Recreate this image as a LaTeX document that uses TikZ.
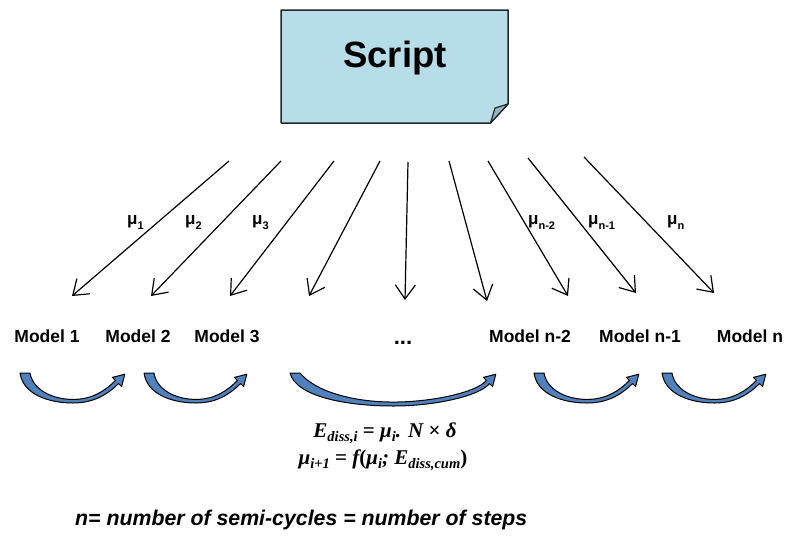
\documentclass[tikz,border=0pt]{standalone}
\usepackage{fontspec}
\setmainfont{Liberation Sans}
\newfontfamily\eqfont{Liberation Serif}
\usetikzlibrary{arrows.meta}

\definecolor{notefill}{HTML}{B7DDE8}
\definecolor{flapfill}{HTML}{93B7C2}
\definecolor{hopfill}{HTML}{4F81BD}

\newcommand\fsz[1]{\fontsize{#1}{#1}\selectfont}
% mu with a lowered, smaller subscript
\newcommand\musub[1]{μ\raisebox{-5.5pt}{\fsz{11}#1}}
% subscript inside the formulas
\newcommand\eqsub[1]{\raisebox{-4pt}{\fsz{14.5}#1}}
\newcommand\up[1]{{\upshape #1}}

% curved block arrow starting at (#1,#2): #3 = distance to the tip, #4 = depth of the sag
\newcommand\hoparrow[4]{%
  \begin{scope}[shift={(#1,#2)}]
    \filldraw[hopshape] (0,0)
      .. controls ({0.03*#3},{0.73*#4}) and ({0.28*#3},#4) .. ({0.5*#3},#4)
      .. controls ({0.7*#3},#4) and ({#3-18},{0.7*#4}) .. ({#3-7.45},10.55)
      -- ({#3-4.4},13.6) -- ({#3-1.2},1.2) -- ({#3-13.6},4.4)
      -- ({#3-10.55},7.45)
      .. controls ({#3-21},{0.6*#4}) and ({0.68*#3},{0.88*#4}) .. ({0.5*#3},{0.88*#4})
      .. controls ({0.3*#3},{0.88*#4}) and ({0.12*#3},{0.55*#4}) .. (10,0)
      -- cycle;
  \end{scope}}

\tikzset{
  ray/.style={line width=1.2pt, -{Straight Barb[length=14pt,width=20pt,line width=1.2pt]}},
  modellabel/.style={font=\bfseries\fsz{17.5}, anchor=base, inner sep=0pt},
  mulabel/.style={font=\bfseries\fsz{17}, anchor=base west, inner sep=0pt},
  eqlabel/.style={font=\eqfont\bfseries\itshape\fsz{21}, anchor=base, inner sep=0pt},
  hopshape/.style={fill=hopfill, draw=black, line width=1pt, line join=round}
}

\begin{document}
\begin{tikzpicture}[x=1pt,y=-1pt]
\useasboundingbox (0,0) rectangle (786,541);

% the script note with its folded corner
\filldraw[fill=notefill, draw=black!85, line width=1.5pt, line join=round]
  (281,10) -- (508,10) -- (508,104) -- (490.5,123) -- (281,123) -- cycle;
\filldraw[fill=flapfill, draw=black!85, line width=1.2pt, line join=round]
  (490.5,123) -- (495,108) -- (508,104) -- cycle;
\node[font=\bfseries\fsz{36.5}, anchor=base, inner sep=0pt] (script) at (395,67) {Script};

% start and end points of the parameter rays
\coordinate (s1) at (229,161); \coordinate (e1) at (72,296);
\coordinate (s2) at (281,161); \coordinate (e2) at (151,296);
\coordinate (s3) at (334,161); \coordinate (e3) at (230,296);
\coordinate (s4) at (380,161); \coordinate (e4) at (309,296);
\coordinate (s5) at (408,162); \coordinate (e5) at (405,300);
\coordinate (s6) at (449,161); \coordinate (e6) at (487,301);
\coordinate (s7) at (488,161); \coordinate (e7) at (568,296);
\coordinate (s8) at (528,158); \coordinate (e8) at (636,293);
\coordinate (s9) at (584,157); \coordinate (e9) at (714,293);
\foreach \n in {1,...,9}{\draw[ray] (s\n) -- (e\n);}

% parameter labels
\node[mulabel] (mu1) at (127,224) {\musub{1}};
\node[mulabel] (mu2) at (185,224) {\musub{2}};
\node[mulabel] (mu3) at (252,224) {\musub{3}};
\node[mulabel] (mun2) at (528,224) {\musub{n-2}};
\node[mulabel] (mun1) at (588,224) {\musub{n-1}};
\node[mulabel] (mun) at (667,224) {\musub{n}};

% models
\node[modellabel] (m1) at (47,342) {Model 1};
\node[modellabel] (m2) at (138,342) {Model 2};
\node[modellabel] (m3) at (227,342) {Model 3};
\node[font=\bfseries\fsz{22}, anchor=base, inner sep=0pt] (dots) at (403,344) {...};
\node[modellabel] (mn2) at (530,342) {Model n-2};
\node[modellabel] (mn1) at (640,342) {Model n-1};
\node[modellabel] (mn) at (750,342) {Model n};

% transfer arrows between successive models
\hoparrow{20}{373}{106}{30}
\hoparrow{144}{373}{104}{30}
\hoparrow{290}{373}{207}{33}
\hoparrow{534}{373}{106}{30}
\hoparrow{662}{373}{105}{30}

% dissipated energy update
\node[eqlabel] (eq1) at (385,437) {E\eqsub{diss,i} \up{=} μ\eqsub{i}. N \up{×} δ};
\node[eqlabel] (eq2) at (383,464) {μ\eqsub{i\up{+}1} \up{=} f\up{(}μ\eqsub{i}; E\eqsub{diss,cum}\up{)}};

% footnote
\node[anchor=base west, inner sep=0pt, font=\bfseries\itshape\fsz{21.3}] (note) at (75,525) {n= number of semi-cycles = number of steps};
\end{tikzpicture}
\end{document}
